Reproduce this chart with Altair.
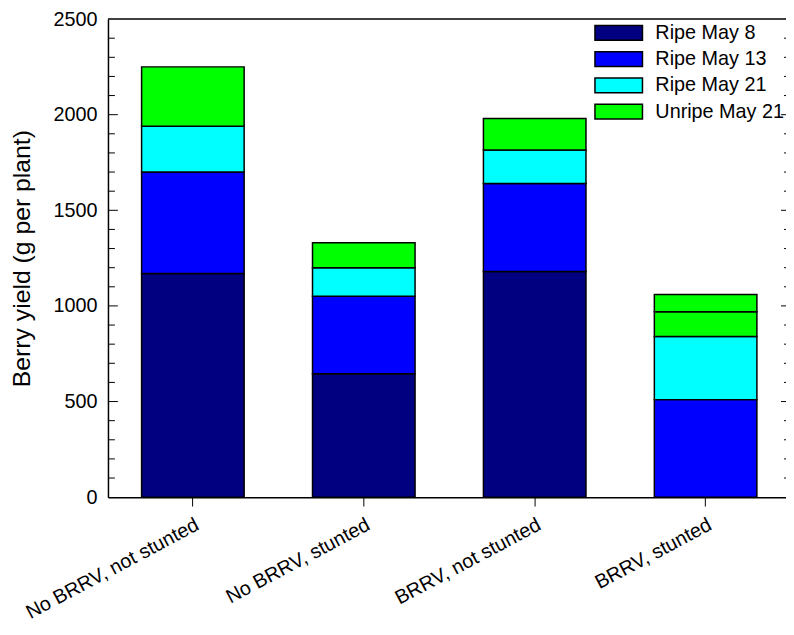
import altair as alt
import pandas as pd

FONT = "Liberation Sans"

categories = ["No BRRV, not stunted", "No BRRV, stunted", "BRRV, not stunted", "BRRV, stunted"]
series_names = ["Ripe May 8", "Ripe May 13", "Ripe May 21", "Unripe May 21"]
colors = ["#000080", "#0000FF", "#00FFFF", "#00FF00"]

ripe_may8 = [1170, 645, 1180, 0]
ripe_may13 = [530, 405, 460, 510]
ripe_may21 = [240, 150, 175, 330]
unripe_may21 = [310, 130, 165, 130]
unripe_may21_top = [0, 0, 0, 90]   # extra green segment drawn on the last bar

y_ticks_major = [0, 500, 1000, 1500, 2000, 2500]
y_ticks_minor = [100, 200, 300, 400, 600, 700, 800, 900, 1100, 1200, 1300, 1400,
                 1600, 1700, 1800, 1900, 2100, 2200, 2300, 2400]

segments = [
    ("Ripe May 8", ripe_may8),
    ("Ripe May 13", ripe_may13),
    ("Ripe May 21", ripe_may21),
    ("Unripe May 21", unripe_may21),
    ("Unripe May 21", unripe_may21_top),
]
rows = []
for k, (name, vals) in enumerate(segments):
    for cat, v in zip(categories, vals):
        if v > 0:
            rows.append({"category": cat, "series": name, "seg": k, "value": v})
df = pd.DataFrame(rows)

yscale = alt.Scale(domain=[0, 2500], nice=False, zero=True)
yaxis = alt.Axis(values=y_ticks_major, format="d", ticks=False, tickSize=0, labelPadding=11,
                 labelFontSize=20, labelFont=FONT, labelColor="black",
                 domainColor="black", domainWidth=1.5, grid=False,
                 title="Berry yield (g per plant)", titleFontSize=25, titleFont=FONT,
                 titleFontWeight="normal", titleColor="black", titlePadding=19)

bars = alt.Chart(df).mark_bar(stroke="black", strokeWidth=1.5).encode(
    x=alt.X("category:N", sort=categories,
            scale=alt.Scale(paddingInner=0.4, paddingOuter=0.1835, align=0.536),
            axis=alt.Axis(title=None, labelAngle=332, labelAlign="right", labelBaseline="top",
                          labelFontSize=20, labelFont=FONT, labelColor="black", labelPadding=8.5,
                          labelLimit=400, tickSize=9, tickColor="black", tickWidth=1,
                          domainColor="black", domainWidth=1.5, grid=False)),
    y=alt.Y("value:Q", stack="zero", scale=yscale, axis=yaxis),
    color=alt.Color("series:N", scale=alt.Scale(domain=series_names, range=colors),
                    legend=alt.Legend(title=None, orient="none", legendX=506, legendY=4,
                                      symbolType="M-3.2,-1L3.2,-1L3.2,1L-3.2,1Z",
                                      symbolSize=225, symbolStrokeColor="black",
                                      symbolStrokeWidth=1.5, symbolOpacity=1,
                                      labelFontSize=20, labelFont=FONT, labelColor="black",
                                      labelOffset=27, rowPadding=4.5, padding=0)),
    order=alt.Order("seg:Q"),
)

major_df = pd.DataFrame({"value": y_ticks_major[1:-1]})
minor_df = pd.DataFrame({"value": y_ticks_minor})
top_df = pd.DataFrame({"value": [2500]})

def tick_layer(data, x0, x1):
    return alt.Chart(data).mark_rule(color="black", strokeWidth=1).encode(
        y=alt.Y("value:Q", scale=yscale, axis=yaxis),
        x=alt.value(x0), x2=alt.value(x1))

layers = [
    bars,
    tick_layer(major_df, 0, 10),
    tick_layer(minor_df, 0, 7),
    tick_layer(major_df, 680, 690),
    tick_layer(minor_df, 683, 690),
    alt.Chart(top_df).mark_rule(color="black", strokeWidth=1.5).encode(
        y=alt.Y("value:Q", scale=yscale, axis=yaxis),
        x=alt.value(0), x2=alt.value(690)),
]

chart = alt.layer(*layers).properties(
    width=685, height=483,
    autosize=alt.AutoSizeParams(type="none"),
    padding={"left": 101, "top": 8, "right": 0, "bottom": 128},
    background="white",
).configure_view(stroke=None)

chart.save("out.html", embed_options={"renderer": "svg", "actions": False})
